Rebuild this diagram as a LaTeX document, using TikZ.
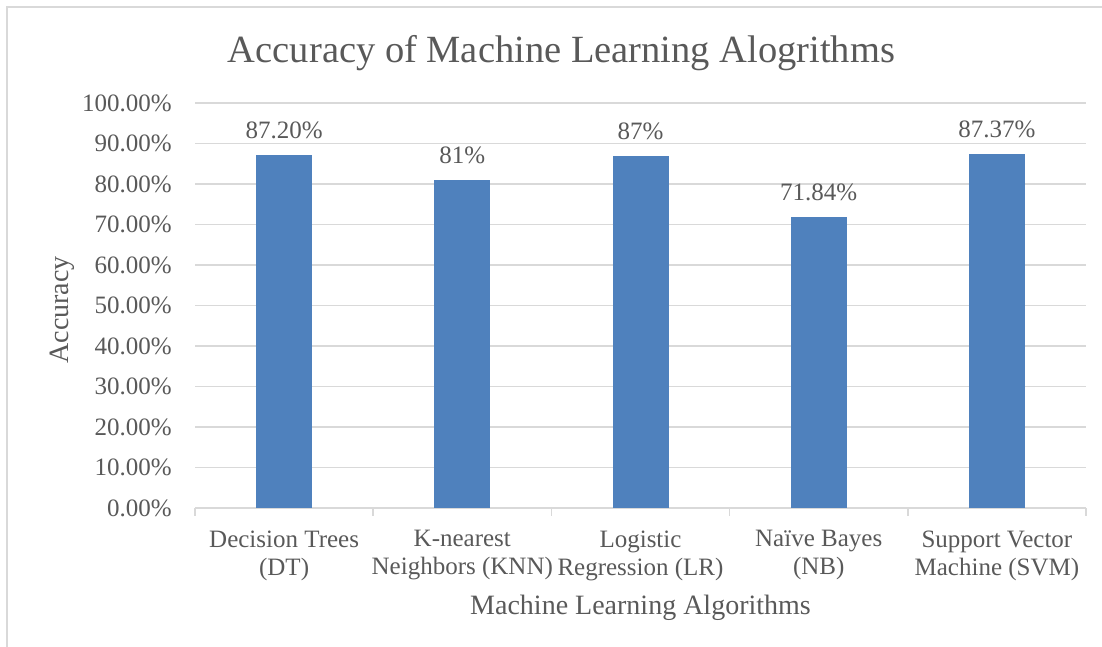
\documentclass[tikz,border=0pt]{standalone}
\usepackage{fontspec}
\setmainfont{Liberation Serif}
\usepackage{tikz}
\definecolor{barblue}{HTML}{4F81BD}
\definecolor{textgray}{HTML}{595959}
\definecolor{linegray}{HTML}{D9D9D9}
\tikzset{every picture/.append style={x=1pt, y=-1pt}}
\tikzset{every label/.append style={text=textgray, font=\fontsize{25}{28}\selectfont}}
\tikzset{
    endpt/.style={inner sep=0pt, outer sep=0pt, minimum size=0pt},
    ticklabel/.style={xshift=-19.7pt},
    vallabel/.style={yshift=12.5pt},
    bar/.style={fill=barblue, inner sep=0pt, outer sep=0pt, minimum width=56pt, anchor=south},
    catlabel/.style={anchor=north, align=center, text=textgray,
        font=\fontsize{25}{28}\selectfont},
    axistitle/.style={anchor=base, text=textgray, font=\fontsize{28}{28}\selectfont},
    gridline/.style={draw=linegray, line width=1.5pt}
}

\begin{document}
\begin{tikzpicture}
	\useasboundingbox (0,0) rectangle (1102,647);
	\coordinate (bl) at (7,647); \coordinate (tl) at (7,7); \coordinate (tr) at (1102,7);
	\draw [gridline] (bl) -- (tl) -- (tr);

	\node (title) [axistitle, font=\fontsize{38.5}{39}\selectfont] at (561.5,63) {Accuracy of Machine Learning Alogrithms};
	\node (ytitle) [axistitle, rotate=90] at (68,310) {Accuracy};
	\node (xtitle) [axistitle] at (640.5,614) {Machine Learning Algorithms};

	\node (l0) [endpt, label={[ticklabel]left:{0.00\%}}] at (195,508) {};
	\node (l1) [endpt, label={[ticklabel]left:{10.00\%}}] at (195,467.5) {};
	\node (l2) [endpt, label={[ticklabel]left:{20.00\%}}] at (195,427) {};
	\node (l3) [endpt, label={[ticklabel]left:{30.00\%}}] at (195,386.5) {};
	\node (l4) [endpt, label={[ticklabel]left:{40.00\%}}] at (195,346) {};
	\node (l5) [endpt, label={[ticklabel]left:{50.00\%}}] at (195,305.5) {};
	\node (l6) [endpt, label={[ticklabel]left:{60.00\%}}] at (195,265) {};
	\node (l7) [endpt, label={[ticklabel]left:{70.00\%}}] at (195,224.5) {};
	\node (l8) [endpt, label={[ticklabel]left:{80.00\%}}] at (195,184) {};
	\node (l9) [endpt, label={[ticklabel]left:{90.00\%}}] at (195,143.5) {};
	\node (l10) [endpt, label={[ticklabel]left:{100.00\%}}] at (195,103) {};
	\node (r0) [endpt] at (1086,508) {}; \node (r1) [endpt] at (1086,467.5) {};
	\node (r2) [endpt] at (1086,427) {}; \node (r3) [endpt] at (1086,386.5) {};
	\node (r4) [endpt] at (1086,346) {}; \node (r5) [endpt] at (1086,305.5) {};
	\node (r6) [endpt] at (1086,265) {}; \node (r7) [endpt] at (1086,224.5) {};
	\node (r8) [endpt] at (1086,184) {}; \node (r9) [endpt] at (1086,143.5) {};
	\node (r10) [endpt] at (1086,103) {};

	\draw [gridline] (l0) edge (r0); \draw [gridline] (l1) edge (r1); \draw [gridline] (l2) edge (r2);
	\draw [gridline] (l3) edge (r3); \draw [gridline] (l4) edge (r4); \draw [gridline] (l5) edge (r5);
	\draw [gridline] (l6) edge (r6); \draw [gridline] (l7) edge (r7); \draw [gridline] (l8) edge (r8);
	\draw [gridline] (l9) edge (r9); \draw [gridline] (l10) edge (r10);

	\node (k1) [endpt] at (373.2,508) {}; \node (k2) [endpt] at (551.4,508) {};
	\node (k3) [endpt] at (729.6,508) {}; \node (k4) [endpt] at (907.8,508) {};
	\node (m0) [endpt] at (195,516) {}; \node (m1) [endpt] at (373.2,516) {};
	\node (m2) [endpt] at (551.4,516) {}; \node (m3) [endpt] at (729.6,516) {};
	\node (m4) [endpt] at (907.8,516) {}; \node (m5) [endpt] at (1086,516) {};
	\draw [gridline] (l0) edge (m0); \draw [gridline] (k1) edge (m1); \draw [gridline] (k2) edge (m2);
	\draw [gridline] (k3) edge (m3); \draw [gridline] (k4) edge (m4); \draw [gridline] (r0) edge (m5);

	\node (1) [bar, minimum height=353.16pt, label={[vallabel]above:{87.20\%}}] at (284.1,508) {};
	\node (2) [bar, minimum height=328.05pt, label={[vallabel]above:{81\%}}] at (462.3,508) {};
	\node (3) [bar, minimum height=352.35pt, label={[vallabel]above:{87\%}}] at (640.5,508) {};
	\node (4) [bar, minimum height=290.95pt, label={[vallabel]above:{71.84\%}}] at (818.7,508) {};
	\node (5) [bar, minimum height=353.85pt, label={[vallabel]above:{87.37\%}}] at (996.9,508) {};

	\node (c1) [catlabel] at (284.1,527) {Decision Trees\\(DT)};
	\node (c2) [catlabel] at (462.3,527) {K-nearest\\Neighbors (KNN)};
	\node (c3) [catlabel] at (640.5,527) {Logistic\\Regression (LR)};
	\node (c4) [catlabel] at (818.7,527) {Naïve Bayes\\(NB)};
	\node (c5) [catlabel] at (996.9,527) {Support Vector\\Machine (SVM)};
\end{tikzpicture}
\end{document}
